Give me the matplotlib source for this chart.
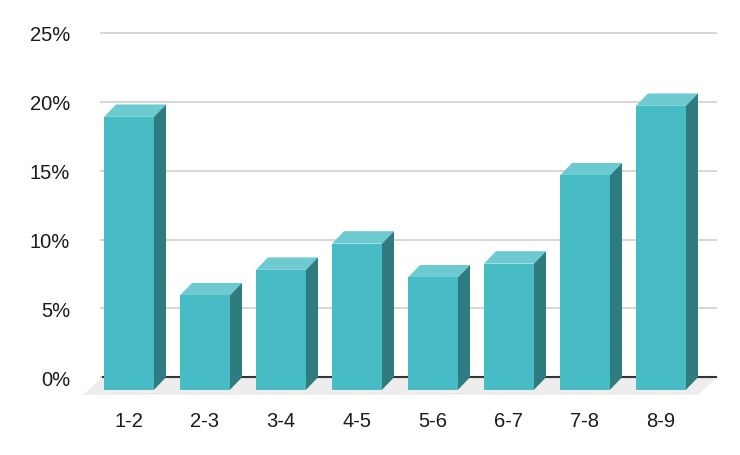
import matplotlib
matplotlib.use("Agg")
import matplotlib.pyplot as plt
from matplotlib.patches import Polygon

categories = ["1-2", "2-3", "3-4", "4-5", "5-6", "6-7", "7-8", "8-9"]
values = [19.8, 6.85, 8.7, 10.6, 8.15, 9.15, 15.55, 20.6]
y_ticks = [0, 5, 10, 15, 20, 25]
y_tick_labels = ["0%", "5%", "10%", "15%", "20%", "25%"]

plt.rcParams["font.family"] = ["Liberation Sans", "DejaVu Sans"]

front_col = "#47bcc5"
top_col = "#6ccad0"
side_col = "#2e7b80"

fig = plt.figure(figsize=(7.4, 4.56), dpi=100)
ax = fig.add_axes([100 / 740, 0.1311, 617 / 740, 0.8099])
ax.set_xlim(-0.3816, 7.737)
ax.set_ylim(-1.3, 25.5)

# 3d depth offsets in data units
w = 0.658
dx = 0.158
dy = 0.9

# floor
floor = Polygon([(-0.355, 0), (7.737, 0), (7.737 - 0.25, -1.28), (-0.355 - 0.25, -1.28)],
                closed=True, facecolor="#ededed", edgecolor="none", zorder=1, clip_on=False)
ax.add_patch(floor)
ax.plot([-0.355, 7.737], [0, 0], color="#333333", lw=1.5, zorder=2, solid_capstyle="butt")

for i, v in enumerate(values):
    left = i - w / 2
    right = i + w / 2
    ax.bar(i, v, bottom=-dy, width=w, color=front_col, zorder=4, clip_on=False)
    top = Polygon([(left, v - dy), (right, v - dy), (right + dx, v), (left + dx, v)],
                  closed=True, facecolor=top_col, edgecolor="none", zorder=3)
    side = Polygon([(right, -dy), (right + dx, 0), (right + dx, v), (right, v - dy)],
                   closed=True, facecolor=side_col, edgecolor="none", zorder=3, clip_on=False)
    ax.add_patch(top)
    ax.add_patch(side)

ax.set_yticks(y_ticks)
ax.set_yticklabels(y_tick_labels)
ax.set_xticks(range(len(categories)))
ax.set_xticklabels(categories)
ax.yaxis.grid(True, color="#cccccc", lw=1.1, zorder=0)
ax.set_axisbelow(True)
ax.tick_params(axis="y", length=0, pad=21.5, labelsize=14.5, labelcolor="#1a1a1a")
ax.tick_params(axis="x", length=0, pad=11.5, labelsize=14.5, labelcolor="#1a1a1a")
for s in ax.spines.values():
    s.set_visible(False)

fig.savefig("out.png", dpi=100)
